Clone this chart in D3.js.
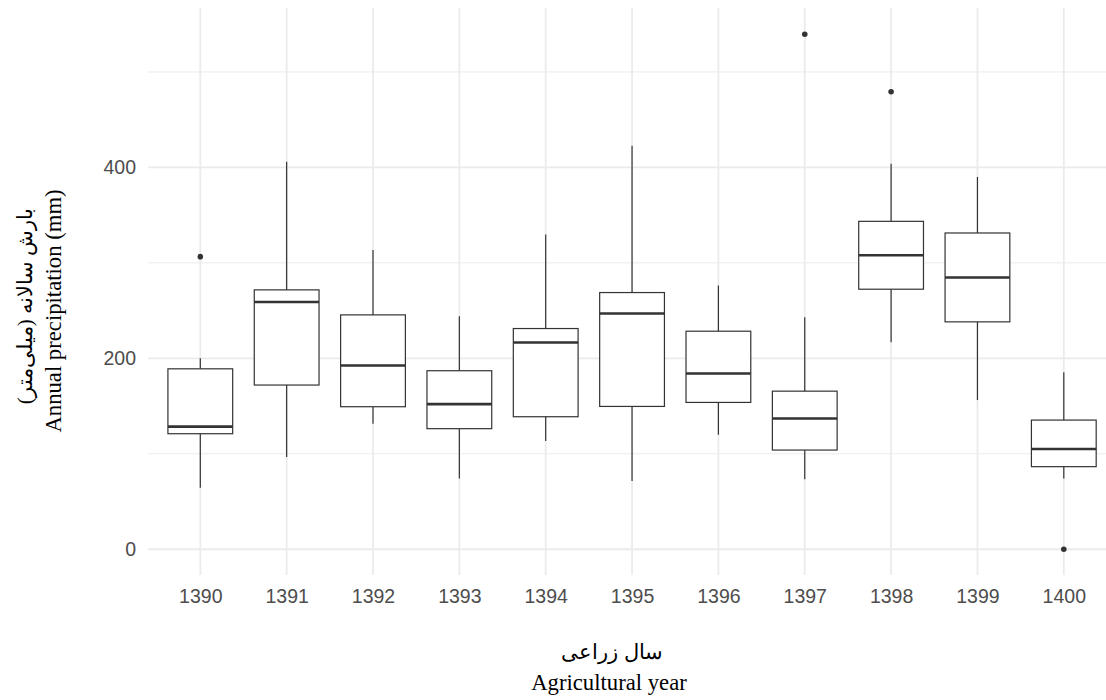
<!DOCTYPE html>
<html>
<head>
<meta charset="utf-8">
<script src="https://cdn.jsdelivr.net/npm/d3@7"></script>
<style>
  body { margin: 0; background: #fff; }
  svg { display: block; }
</style>
</head>
<body>
<svg class="chart" width="1106" height="700"></svg>
<script>
// agricultural years and box summaries (mm)
const years = ["1390", "1391", "1392", "1393", "1394", "1395", "1396", "1397", "1398", "1399", "1400"];
const whiskerLow = [64.5, 96.6, 131.5, 74, 113.3, 71.5, 120, 73.2, 216.9, 156.3, 74];
const q1 = [121, 172, 149.3, 126.3, 138.8, 149.6, 153.8, 103.9, 272.4, 238.2, 86.5];
const median = [128.4, 259, 192.5, 152, 216.6, 246.9, 184.1, 137, 307.9, 284.6, 105];
const q3 = [189, 271.7, 245.5, 187, 231.2, 268.9, 228.4, 165.6, 343.5, 331.3, 135.3];
const whiskerHigh = [200, 406, 313.5, 244, 329.6, 422.7, 276.2, 243, 403.8, 390, 185.5];
const outlierYears = ["1390", "1397", "1398", "1400"];
const outlierValues = [306.5, 539.5, 479.2, 0];

const yTicks = [0, 200, 400];
const yMinor = [100, 300, 500];

const boxes = years.map((y, i) => ({
    year: y, lo: whiskerLow[i], q1: q1[i], med: median[i], q3: q3[i], hi: whiskerHigh[i]
}));
const outliers = outlierYears.map((y, i) => ({year: y, value: outlierValues[i]}));

const svg = d3.select("svg.chart");
const panel = {left: 148, right: 1106, top: 8, bottom: 575};

const x = d3.scalePoint()
    .domain(years)
    .range([200.3, 1063.8]);
const step = x.step();
const boxW = step * 0.75;

const y = d3.scaleLinear()
    .domain([-27, 567])
    .range([panel.bottom, panel.top]);

const grid = svg.append("g");
// minor horizontal grid
grid.selectAll("line.minor")
    .data(yMinor)
    .enter()
    .append("line")
    .attr("x1", panel.left)
    .attr("x2", panel.right)
    .attr("y1", d => y(d))
    .attr("y2", d => y(d))
    .attr("stroke", "#ebebeb")
    .attr("stroke-width", 1);
// major horizontal grid
grid.selectAll("line.major")
    .data(yTicks)
    .enter()
    .append("line")
    .attr("x1", panel.left)
    .attr("x2", panel.right)
    .attr("y1", d => y(d))
    .attr("y2", d => y(d))
    .attr("stroke", "#ebebeb")
    .attr("stroke-width", 1.8);
// vertical grid
grid.selectAll("line.vert")
    .data(years)
    .enter()
    .append("line")
    .attr("x1", d => x(d))
    .attr("x2", d => x(d))
    .attr("y1", panel.top)
    .attr("y2", panel.bottom)
    .attr("stroke", "#ebebeb")
    .attr("stroke-width", 1.8);

const ink = "#333333";
const bx = svg.append("g").selectAll("g")
    .data(boxes)
    .enter()
    .append("g");

// whiskers
bx.append("line")
    .attr("x1", d => x(d.year))
    .attr("x2", d => x(d.year))
    .attr("y1", d => y(d.q3))
    .attr("y2", d => y(d.hi))
    .attr("stroke", ink)
    .attr("stroke-width", 1.2);
bx.append("line")
    .attr("x1", d => x(d.year))
    .attr("x2", d => x(d.year))
    .attr("y1", d => y(d.q1))
    .attr("y2", d => y(d.lo))
    .attr("stroke", ink)
    .attr("stroke-width", 1.2);
// box
bx.append("rect")
    .attr("x", d => x(d.year) - boxW / 2)
    .attr("y", d => y(d.q3))
    .attr("width", boxW)
    .attr("height", d => y(d.q1) - y(d.q3))
    .attr("fill", "#fff")
    .attr("stroke", ink)
    .attr("stroke-width", 1.2);
// median
bx.append("line")
    .attr("x1", d => x(d.year) - boxW / 2)
    .attr("x2", d => x(d.year) + boxW / 2)
    .attr("y1", d => y(d.med))
    .attr("y2", d => y(d.med))
    .attr("stroke", ink)
    .attr("stroke-width", 2.6);

svg.append("g").selectAll("circle")
    .data(outliers)
    .enter()
    .append("circle")
    .attr("cx", d => x(d.year))
    .attr("cy", d => y(d.value))
    .attr("r", 2.8)
    .attr("fill", ink);

// axes (labels only, theme_minimal style)
const xAxis = svg.append("g")
    .attr("transform", "translate(0," + panel.bottom + ")")
    .call(d3.axisBottom(x).tickSize(0).tickPadding(14));
const yAxis = svg.append("g")
    .attr("transform", "translate(" + panel.left + ",0)")
    .call(d3.axisLeft(y).tickValues(yTicks).tickSize(0).tickPadding(12));
[xAxis, yAxis].forEach(a => {
    a.select(".domain").remove();
    a.selectAll("text")
        .attr("fill", "#4d4d4d")
        .attr("font-family", "'Liberation Sans', Arial, sans-serif")
        .attr("font-size", "19.5px");
});

// titles
const serif = "'Liberation Serif', 'Times New Roman', 'DejaVu Serif', serif";
svg.append("text")
    .attr("x", 612)
    .attr("y", 659)
    .attr("text-anchor", "middle")
    .attr("font-family", serif)
    .attr("font-size", "21px")
    .attr("direction", "rtl")
    .text("سال زراعی");
svg.append("text")
    .attr("x", 609)
    .attr("y", 690)
    .attr("text-anchor", "middle")
    .attr("font-family", serif)
    .attr("font-size", "22.7px")
    .text("Agricultural year");

svg.append("text")
    .attr("transform", "translate(32,306) rotate(-90)")
    .attr("text-anchor", "middle")
    .attr("font-family", serif)
    .attr("font-size", "21px")
    .attr("direction", "rtl")
    .text("بارش سالانه (میلی‌متر)");
svg.append("text")
    .attr("transform", "translate(61,311) rotate(-90)")
    .attr("text-anchor", "middle")
    .attr("font-family", serif)
    .attr("font-size", "22.7px")
    .text("Annual precipitation (mm)");
</script>
</body>
</html>
